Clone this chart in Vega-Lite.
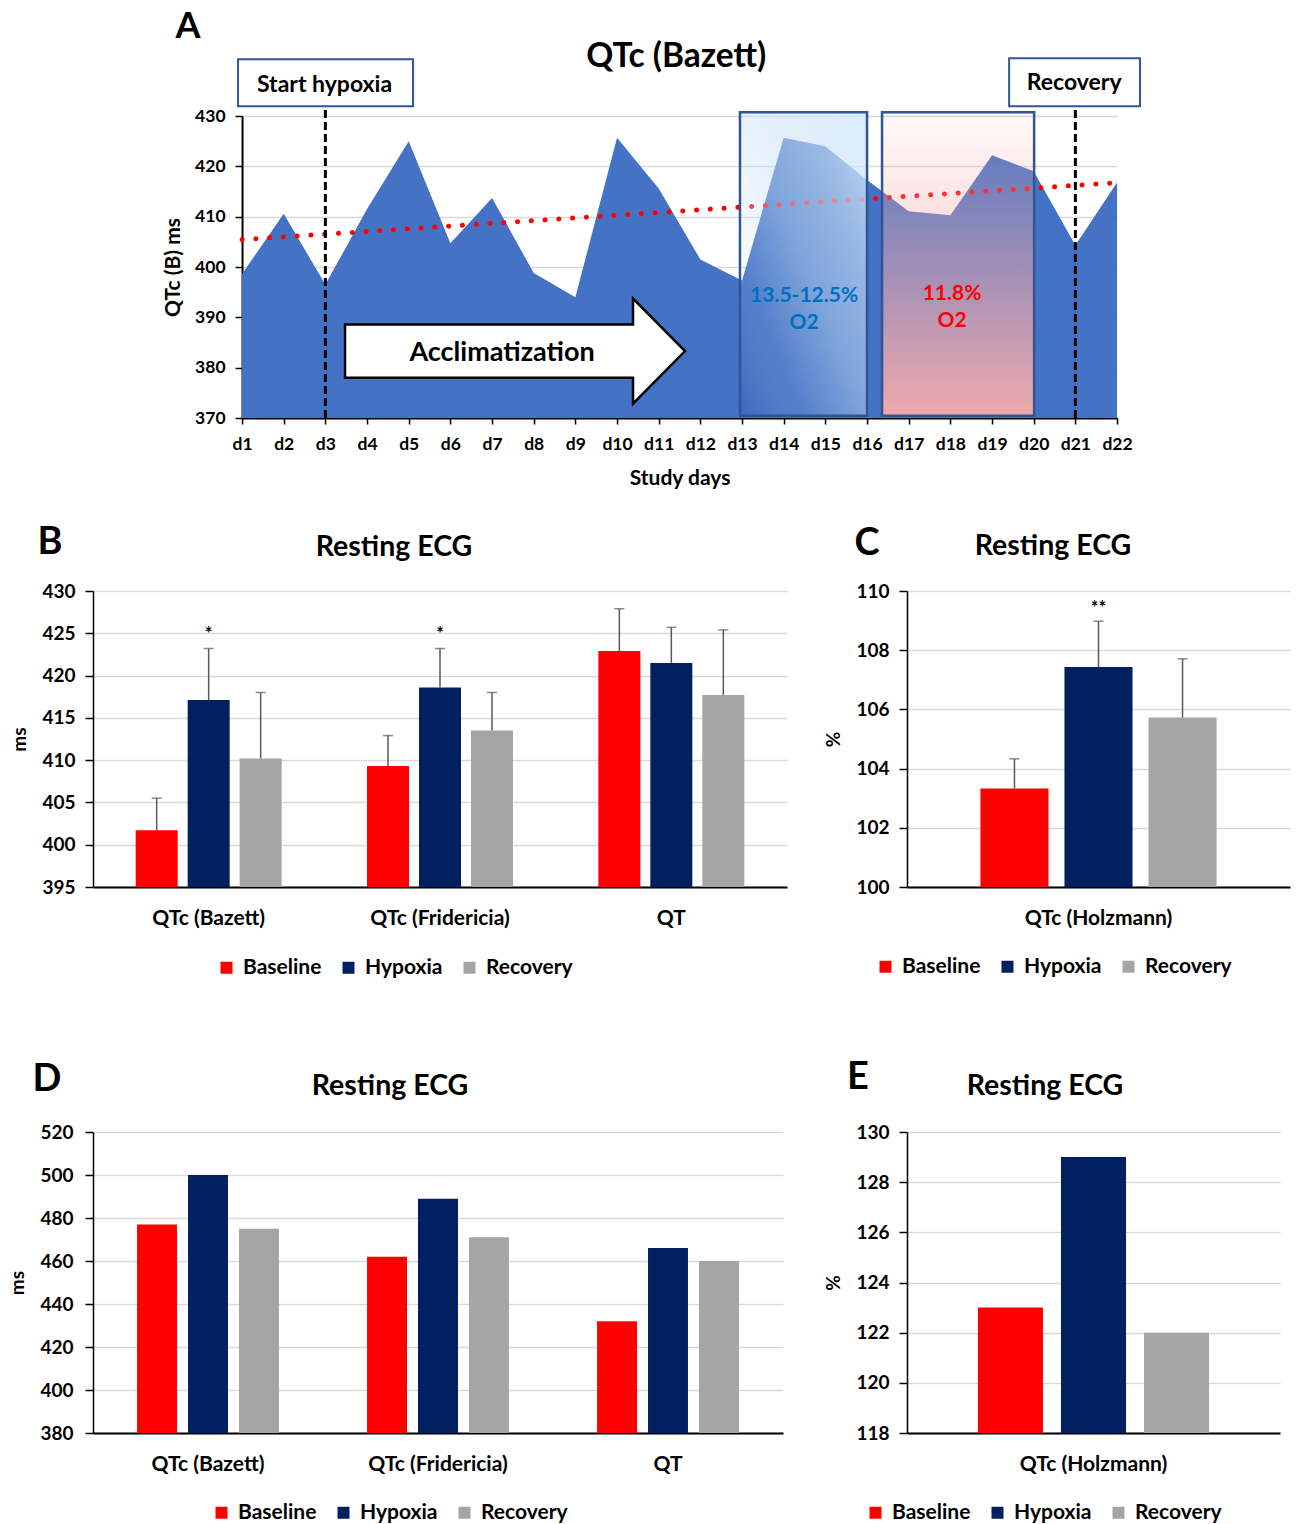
{
  "$schema": "https://vega.github.io/schema/vega-lite/v6.json",
  "background": "white",
  "padding": {"left": 8, "right": 5, "top": 8, "bottom": 0},
  "config": {
    "font": "Lato",
    "view": {"stroke": null},
    "axis": {"labelFont": "Lato", "titleFont": "Lato", "labelColor": "black", "titleColor": "black", "labelFontWeight": "bold", "titleFontWeight": "bold", "domainColor": "black", "tickColor": "black", "gridColor": "#d9d9d9"},
    "legend": {"labelFont": "Lato"},
    "text": {"font": "Lato", "fontWeight": "bold", "color": "black"}
  },
  "spacing": 81,
  "vconcat": [
    {
      "spacing": 35,
      "center": true,
      "vconcat": [
        {
          "width": 875,
          "height": 302,
          "data": {"values": [
            {"day": 1, "qtc": 398.6}, {"day": 2, "qtc": 410.6}, {"day": 3, "qtc": 396.5}, {"day": 4, "qtc": 411.5},
            {"day": 5, "qtc": 425.0}, {"day": 6, "qtc": 404.7}, {"day": 7, "qtc": 413.7}, {"day": 8, "qtc": 398.8},
            {"day": 9, "qtc": 394.0}, {"day": 10, "qtc": 425.7}, {"day": 11, "qtc": 415.6}, {"day": 12, "qtc": 401.5},
            {"day": 13, "qtc": 397.3}, {"day": 14, "qtc": 425.7}, {"day": 15, "qtc": 424.0}, {"day": 16, "qtc": 417.3},
            {"day": 17, "qtc": 411.1}, {"day": 18, "qtc": 410.3}, {"day": 19, "qtc": 422.2}, {"day": 20, "qtc": 419.0},
            {"day": 21, "qtc": 404.3}, {"day": 22, "qtc": 416.8}
          ]},
          "layer": [
            {
              "mark": {"type": "area", "color": "#4472C4", "opacity": 1},
              "encoding": {
                "x": {"field": "day", "type": "quantitative",
                  "scale": {"domain": [1, 22], "nice": false, "zero": false},
                  "axis": {"values": [1,2,3,4,5,6,7,8,9,10,11,12,13,14,15,16,17,18,19,20,21,22], "labelExpr": "'d' + datum.value",
                    "title": "Study days", "titleFontSize": 21, "titlePadding": 15, "labelFontSize": 17.5, "labelPadding": 11,
                    "tickSize": 6, "tickWidth": 1.5, "domainWidth": 2, "grid": false, "labelFlush": false, "labelOverlap": false}},
                "y": {"field": "qtc", "type": "quantitative",
                  "scale": {"domain": [370, 430], "nice": false, "zero": false},
                  "axis": {"values": [370,380,390,400,410,420,430], "title": "QTc (B) ms", "titleFontSize": 21, "titlePadding": 11,
                    "labelFontSize": 17.5, "labelPadding": 10, "tickSize": 7, "tickWidth": 1.5, "domainWidth": 2, "grid": true, "gridWidth": 1.3}},
                "y2": {"datum": 370}
              }
            },
            {
              "transform": [{"regression": "qtc", "on": "day"}],
              "mark": {"type": "line", "color": "#FF0000", "strokeWidth": 5, "strokeDash": [0.1, 13.7], "strokeCap": "round"},
              "encoding": {"x": {"field": "day", "type": "quantitative"}, "y": {"field": "qtc", "type": "quantitative"}}
            },
            {
              "data": {"values": [{}]},
              "mark": {"type": "rect", "stroke": "#2F5597", "strokeWidth": 2.5,
                "fill": {"gradient": "linear", "x1": 0, "y1": 1, "x2": 1, "y2": 0, "stops": [
                  {"offset": 0, "color": "rgba(30,70,160,0.25)"},
                  {"offset": 0.25, "color": "rgba(200,225,248,0.12)"},
                  {"offset": 0.5, "color": "rgba(200,225,248,0.45)"},
                  {"offset": 0.75, "color": "rgba(205,228,248,0.62)"},
                  {"offset": 1, "color": "rgba(215,235,252,0.88)"}]}},
              "encoding": {"x": {"datum": 12.95}, "x2": {"datum": 16.0}, "y": {"datum": 370.46}, "y2": {"datum": 430.74}}
            },
            {
              "data": {"values": [{}]},
              "mark": {"type": "rect", "stroke": "#2F5597", "strokeWidth": 2.5,
                "fill": {"gradient": "linear", "x1": 0, "y1": 0, "x2": 0, "y2": 1, "stops": [
                  {"offset": 0, "color": "rgba(248,170,170,0.06)"},
                  {"offset": 0.5, "color": "rgba(248,170,170,0.5)"},
                  {"offset": 1, "color": "rgba(248,172,172,0.95)"}]}},
              "encoding": {"x": {"datum": 16.36}, "x2": {"datum": 20.01}, "y": {"datum": 370.46}, "y2": {"datum": 430.74}}
            },
            {
              "data": {"values": [{}]},
              "mark": {"type": "rule", "color": "black", "strokeWidth": 3, "strokeDash": [8, 4]},
              "encoding": {"x": {"datum": 3}, "y": {"datum": 370}, "y2": {"datum": 431.93}}
            },
            {
              "data": {"values": [{}]},
              "mark": {"type": "rule", "color": "black", "strokeWidth": 3, "strokeDash": [8, 4]},
              "encoding": {"x": {"datum": 21}, "y": {"datum": 370}, "y2": {"datum": 431.93}}
            },
            {
              "data": {"values": [{}]},
              "mark": {"type": "rect", "fill": "white", "stroke": "#2F5597", "strokeWidth": 2},
              "encoding": {"x": {"datum": 0.904}, "x2": {"datum": 5.104}, "y": {"datum": 431.93}, "y2": {"datum": 441.28}}
            },
            {
              "data": {"values": [{}]},
              "mark": {"type": "rect", "fill": "white", "stroke": "#2F5597", "strokeWidth": 2},
              "encoding": {"x": {"datum": 19.41}, "x2": {"datum": 22.55}, "y": {"datum": 431.93}, "y2": {"datum": 441.48}}
            },
            {
              "data": {"values": [{}]},
              "mark": {"type": "text", "text": "Start hypoxia", "fontSize": 23},
              "encoding": {"x": {"datum": 2.98}, "y": {"datum": 436.1}}
            },
            {
              "data": {"values": [{}]},
              "mark": {"type": "text", "text": "Recovery", "fontSize": 23},
              "encoding": {"x": {"datum": 20.97}, "y": {"datum": 436.5}}
            },
            {
              "data": {"values": [{}]},
              "mark": {"type": "point", "shape": "M -1 -0.156 L 0.694 -0.156 L 0.694 -0.309 L 1 0 L 0.694 0.309 L 0.694 0.156 L -1 0.156 Z",
                "size": 115600, "filled": true, "fill": "white", "stroke": "black", "strokeWidth": 2.5, "opacity": 1},
              "encoding": {"x": {"datum": 7.552}, "y": {"datum": 383.29}}
            },
            {
              "data": {"values": [{}]},
              "mark": {"type": "text", "text": "Acclimatization", "fontSize": 27},
              "encoding": {"x": {"datum": 7.24}, "y": {"datum": 383.0}}
            },
            {
              "data": {"values": [{}]},
              "mark": {"type": "text", "text": "13.5-12.5%", "fontSize": 21, "color": "#0070C0"},
              "encoding": {"x": {"datum": 14.49}, "y": {"datum": 394.2}}
            },
            {
              "data": {"values": [{}]},
              "mark": {"type": "text", "text": "O2", "fontSize": 21, "color": "#0070C0"},
              "encoding": {"x": {"datum": 14.49}, "y": {"datum": 388.8}}
            },
            {
              "data": {"values": [{}]},
              "mark": {"type": "text", "text": "11.8%", "fontSize": 21, "color": "#FF0000"},
              "encoding": {"x": {"datum": 18.04}, "y": {"datum": 394.6}}
            },
            {
              "data": {"values": [{}]},
              "mark": {"type": "text", "text": "O2", "fontSize": 21, "color": "#FF0000"},
              "encoding": {"x": {"datum": 18.04}, "y": {"datum": 389.2}}
            },
            {
              "data": {"values": [{}]},
              "mark": {"type": "text", "text": "QTc (Bazett)", "fontSize": 33.5},
              "encoding": {"x": {"datum": 11.42}, "y": {"datum": 441.67}}
            },
            {
              "data": {"values": [{}]},
              "mark": {"type": "text", "text": "A", "fontSize": 36},
              "encoding": {"x": {"datum": -0.3}, "y": {"datum": 447.7}}
            }
          ]
        },
        {
          "spacing": 37,
          "resolve": {"scale": {"x": "independent", "y": "independent", "color": "independent", "xOffset": "independent"}, "legend": {"color": "independent"}},
          "hconcat": [
            {
              "width": 694,
              "height": 296,
              "data": {"values": [
                {"measure": "QTc (Bazett)", "group": "Baseline", "value": 401.7, "upper": 405.5},
                {"measure": "QTc (Bazett)", "group": "Hypoxia", "value": 417.1, "upper": 423.2, "sig": "*"},
                {"measure": "QTc (Bazett)", "group": "Recovery", "value": 410.2, "upper": 418.0},
                {"measure": "QTc (Fridericia)", "group": "Baseline", "value": 409.3, "upper": 412.9},
                {"measure": "QTc (Fridericia)", "group": "Hypoxia", "value": 418.6, "upper": 423.2, "sig": "*"},
                {"measure": "QTc (Fridericia)", "group": "Recovery", "value": 413.5, "upper": 418.0},
                {"measure": "QT", "group": "Baseline", "value": 422.9, "upper": 427.9},
                {"measure": "QT", "group": "Hypoxia", "value": 421.5, "upper": 425.7},
                {"measure": "QT", "group": "Recovery", "value": 417.7, "upper": 425.4}
              ]},
              "layer": [
                {
                  "mark": {"type": "bar"},
                  "encoding": {
                    "x": {"field": "measure", "type": "nominal",
                      "scale": {"domain": ["QTc (Bazett)", "QTc (Fridericia)", "QT"], "paddingInner": 0.369, "paddingOuter": 0.1845},
                      "axis": {"title": null, "labelAngle": 0, "ticks": false, "labelPadding": 20, "labelFontSize": 21, "domainWidth": 2}},
                    "xOffset": {"field": "group", "type": "nominal", "scale": {"domain": ["Baseline", "Hypoxia", "Recovery"], "paddingInner": 0.192, "paddingOuter": 0}},
                    "y": {"field": "value", "type": "quantitative",
                      "scale": {"domain": [395, 430], "nice": false, "zero": false},
                      "axis": {"values": [395,400,405,410,415,420,425,430], "title": "ms", "titleFontSize": 19, "titlePadding": 12,
                        "labelFontSize": 19, "labelPadding": 10, "tickSize": 8, "tickWidth": 1.5, "domainWidth": 1.5, "grid": true, "gridWidth": 1.3}},
                    "y2": {"datum": 395},
                    "color": {"field": "group", "type": "nominal",
                      "scale": {"domain": ["Baseline", "Hypoxia", "Recovery"], "range": ["#FF0000", "#002060", "#A5A5A5"]},
                      "legend": {"orient": "none", "legendX": 123, "legendY": 366, "direction": "horizontal", "title": null,
                        "symbolType": "square", "symbolSize": 144, "symbolStrokeWidth": 0, "labelFontSize": 21, "labelFontWeight": "bold",
                        "labelColor": "black", "labelOffset": 6, "columnPadding": 16}}
                  }
                },
                {
                  "mark": {"type": "rule", "color": "#595959", "strokeWidth": 1.5},
                  "encoding": {
                    "x": {"field": "measure", "type": "nominal"},
                    "xOffset": {"field": "group", "type": "nominal"},
                    "y": {"field": "value", "type": "quantitative"},
                    "y2": {"field": "upper"}
                  }
                },
                {
                  "mark": {"type": "tick", "color": "#595959", "thickness": 1.5, "size": 10, "orient": "horizontal"},
                  "encoding": {
                    "x": {"field": "measure", "type": "nominal"},
                    "xOffset": {"field": "group", "type": "nominal"},
                    "y": {"field": "upper", "type": "quantitative"}
                  }
                },
                {
                  "transform": [{"filter": "isValid(datum.sig)"}],
                  "mark": {"type": "text", "fontSize": 18, "dy": -14, "color": "black"},
                  "encoding": {
                    "x": {"field": "measure", "type": "nominal"},
                    "xOffset": {"field": "group", "type": "nominal"},
                    "y": {"field": "upper", "type": "quantitative"},
                    "text": {"field": "sig"}
                  }
                },
                {
                  "data": {"values": [{}]},
                  "mark": {"type": "text", "text": "B", "fontSize": 38, "dx": -158.7},
                  "encoding": {"x": {"datum": "QTc (Bazett)"}, "y": {"datum": 435.65}}
                },
                {
                  "data": {"values": [{}]},
                  "mark": {"type": "text", "text": "Resting ECG", "fontSize": 28.5, "dx": 185.3},
                  "encoding": {"x": {"datum": "QTc (Bazett)"}, "y": {"datum": 435.2}}
                }
              ]
            },
            {
              "width": 383,
              "height": 296,
              "data": {"values": [
                {"measure": "QTc (Holzmann)", "group": "Baseline", "value": 103.33, "upper": 104.33},
                {"measure": "QTc (Holzmann)", "group": "Hypoxia", "value": 107.43, "upper": 108.98, "sig": "**"},
                {"measure": "QTc (Holzmann)", "group": "Recovery", "value": 105.73, "upper": 107.71}
              ]},
              "layer": [
                {
                  "mark": {"type": "bar"},
                  "encoding": {
                    "x": {"field": "measure", "type": "nominal",
                      "scale": {"domain": ["QTc (Holzmann)"], "paddingInner": 0, "paddingOuter": 0.311},
                      "axis": {"title": null, "labelAngle": 0, "ticks": false, "labelPadding": 20, "labelFontSize": 21, "domainWidth": 2}},
                    "xOffset": {"field": "group", "type": "nominal", "scale": {"domain": ["Baseline", "Hypoxia", "Recovery"], "paddingInner": 0.19, "paddingOuter": 0}},
                    "y": {"field": "value", "type": "quantitative",
                      "scale": {"domain": [100, 110], "nice": false, "zero": false},
                      "axis": {"values": [100,102,104,106,108,110], "title": "%", "titleFontSize": 19, "titlePadding": 12,
                        "labelFontSize": 19, "labelPadding": 10, "tickSize": 8, "tickWidth": 1.5, "domainWidth": 1.5, "grid": true, "gridWidth": 1.3}},
                    "y2": {"datum": 100},
                    "color": {"field": "group", "type": "nominal",
                      "scale": {"domain": ["Baseline", "Hypoxia", "Recovery"], "range": ["#FF0000", "#002060", "#A5A5A5"]},
                      "legend": {"orient": "none", "legendX": -32, "legendY": 365, "direction": "horizontal", "title": null,
                        "symbolType": "square", "symbolSize": 144, "symbolStrokeWidth": 0, "labelFontSize": 21, "labelFontWeight": "bold",
                        "labelColor": "black", "labelOffset": 6, "columnPadding": 16}}
                  }
                },
                {
                  "mark": {"type": "rule", "color": "#595959", "strokeWidth": 1.5},
                  "encoding": {
                    "x": {"field": "measure", "type": "nominal"},
                    "xOffset": {"field": "group", "type": "nominal"},
                    "y": {"field": "value", "type": "quantitative"},
                    "y2": {"field": "upper"}
                  }
                },
                {
                  "mark": {"type": "tick", "color": "#595959", "thickness": 1.5, "size": 10, "orient": "horizontal"},
                  "encoding": {
                    "x": {"field": "measure", "type": "nominal"},
                    "xOffset": {"field": "group", "type": "nominal"},
                    "y": {"field": "upper", "type": "quantitative"}
                  }
                },
                {
                  "transform": [{"filter": "isValid(datum.sig)"}],
                  "mark": {"type": "text", "fontSize": 18, "dy": -12, "color": "black"},
                  "encoding": {
                    "x": {"field": "measure", "type": "nominal"},
                    "xOffset": {"field": "group", "type": "nominal"},
                    "y": {"field": "upper", "type": "quantitative"},
                    "text": {"field": "sig"}
                  }
                },
                {
                  "data": {"values": [{}]},
                  "mark": {"type": "text", "text": "C", "fontSize": 38, "dx": -231.5},
                  "encoding": {"x": {"datum": "QTc (Holzmann)"}, "y": {"datum": 111.59}}
                },
                {
                  "data": {"values": [{}]},
                  "mark": {"type": "text", "text": "Resting ECG", "fontSize": 28.5, "dx": -45.5},
                  "encoding": {"x": {"datum": "QTc (Holzmann)"}, "y": {"datum": 111.52}}
                }
              ]
            }
          ]
        }
      ]
    },
    {
      "spacing": 41,
      "resolve": {"scale": {"x": "independent", "y": "independent", "color": "independent", "xOffset": "independent"}, "legend": {"color": "independent"}},
      "hconcat": [
        {
          "width": 690,
          "height": 301,
          "data": {"values": [
            {"measure": "QTc (Bazett)", "group": "Baseline", "value": 477},
            {"measure": "QTc (Bazett)", "group": "Hypoxia", "value": 500},
            {"measure": "QTc (Bazett)", "group": "Recovery", "value": 475},
            {"measure": "QTc (Fridericia)", "group": "Baseline", "value": 462},
            {"measure": "QTc (Fridericia)", "group": "Hypoxia", "value": 489},
            {"measure": "QTc (Fridericia)", "group": "Recovery", "value": 471},
            {"measure": "QT", "group": "Baseline", "value": 432},
            {"measure": "QT", "group": "Hypoxia", "value": 466},
            {"measure": "QT", "group": "Recovery", "value": 460}
          ]},
          "layer": [
            {
              "mark": {"type": "bar"},
              "encoding": {
                "x": {"field": "measure", "type": "nominal",
                  "scale": {"domain": ["QTc (Bazett)", "QTc (Fridericia)", "QT"], "paddingInner": 0.383, "paddingOuter": 0.1915},
                  "axis": {"title": null, "labelAngle": 0, "ticks": false, "labelPadding": 20, "labelFontSize": 21, "domainWidth": 2}},
                "xOffset": {"field": "group", "type": "nominal", "scale": {"domain": ["Baseline", "Hypoxia", "Recovery"], "paddingInner": 0.216, "paddingOuter": 0}},
                "y": {"field": "value", "type": "quantitative",
                  "scale": {"domain": [380, 520], "nice": false, "zero": false},
                  "axis": {"values": [380,400,420,440,460,480,500,520], "title": "ms", "titleFontSize": 19, "titlePadding": 12,
                    "labelFontSize": 19, "labelPadding": 12, "tickSize": 8, "tickWidth": 1.5, "domainWidth": 1.5, "grid": true, "gridWidth": 1.3}},
                "y2": {"datum": 380},
                "color": {"field": "group", "type": "nominal",
                  "scale": {"domain": ["Baseline", "Hypoxia", "Recovery"], "range": ["#FF0000", "#002060", "#A5A5A5"]},
                  "legend": {"orient": "none", "legendX": 118, "legendY": 370, "direction": "horizontal", "title": null,
                    "symbolType": "square", "symbolSize": 144, "symbolStrokeWidth": 0, "labelFontSize": 21, "labelFontWeight": "bold",
                    "labelColor": "black", "labelOffset": 6, "columnPadding": 16}}
              }
            },
            {
              "data": {"values": [{}]},
              "mark": {"type": "text", "text": "D", "fontSize": 38, "dx": -161},
              "encoding": {"x": {"datum": "QTc (Bazett)"}, "y": {"datum": 544.3}}
            },
            {
              "data": {"values": [{}]},
              "mark": {"type": "text", "text": "Resting ECG", "fontSize": 28.5, "dx": 182},
              "encoding": {"x": {"datum": "QTc (Bazett)"}, "y": {"datum": 541.54}}
            }
          ]
        },
        {
          "width": 373,
          "height": 301,
          "data": {"values": [
            {"measure": "QTc (Holzmann)", "group": "Baseline", "value": 123},
            {"measure": "QTc (Holzmann)", "group": "Hypoxia", "value": 129},
            {"measure": "QTc (Holzmann)", "group": "Recovery", "value": 122}
          ]},
          "layer": [
            {
              "mark": {"type": "bar"},
              "encoding": {
                "x": {"field": "measure", "type": "nominal",
                  "scale": {"domain": ["QTc (Holzmann)"], "paddingInner": 0, "paddingOuter": 0.307},
                  "axis": {"title": null, "labelAngle": 0, "ticks": false, "labelPadding": 20, "labelFontSize": 21, "domainWidth": 2}},
                "xOffset": {"field": "group", "type": "nominal", "scale": {"domain": ["Baseline", "Hypoxia", "Recovery"], "paddingInner": 0.217, "paddingOuter": 0}},
                "y": {"field": "value", "type": "quantitative",
                  "scale": {"domain": [118, 130], "nice": false, "zero": false},
                  "axis": {"values": [118,120,122,124,126,128,130], "title": "%", "titleFontSize": 19, "titlePadding": 12,
                    "labelFontSize": 19, "labelPadding": 10, "tickSize": 8, "tickWidth": 1.5, "domainWidth": 1.5, "grid": true, "gridWidth": 1.3}},
                "y2": {"datum": 118},
                "color": {"field": "group", "type": "nominal",
                  "scale": {"domain": ["Baseline", "Hypoxia", "Recovery"], "range": ["#FF0000", "#002060", "#A5A5A5"]},
                  "legend": {"orient": "none", "legendX": -42, "legendY": 370, "direction": "horizontal", "title": null,
                    "symbolType": "square", "symbolSize": 144, "symbolStrokeWidth": 0, "labelFontSize": 21, "labelFontWeight": "bold",
                    "labelColor": "black", "labelOffset": 6, "columnPadding": 16}}
              }
            },
            {
              "data": {"values": [{}]},
              "mark": {"type": "text", "text": "E", "fontSize": 38, "dx": -235.5},
              "encoding": {"x": {"datum": "QTc (Holzmann)"}, "y": {"datum": 132.14}}
            },
            {
              "data": {"values": [{}]},
              "mark": {"type": "text", "text": "Resting ECG", "fontSize": 28.5, "dx": -48.5},
              "encoding": {"x": {"datum": "QTc (Holzmann)"}, "y": {"datum": 131.82}}
            }
          ]
        }
      ]
    }
  ]
}
